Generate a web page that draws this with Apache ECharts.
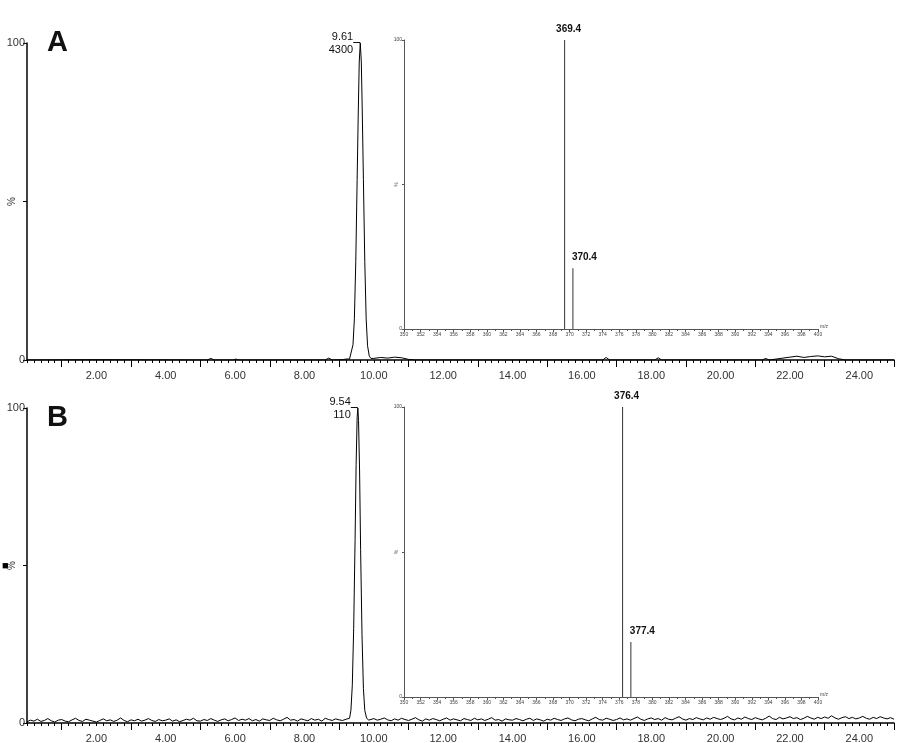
<!DOCTYPE html>
<html><head><meta charset="utf-8">
<script src="https://cdn.jsdelivr.net/npm/echarts@6/dist/echarts.min.js"></script>
<style>html,body{margin:0;padding:0;background:#fff}#c{width:900px;height:743px}</style>
</head><body><div id="c"></div><script>
// ---- Chromatogram A (time min, % intensity)
const baselineA = [[0,0],[2,0.1],[5.2,0],[5.3,0.5],[5.4,0],[5.95,0],[6.02,0.3],[6.1,0],[8.6,0],[8.7,0.6],[8.8,0],[9.1,0.1],[9.2,0.3]];
const peakA = [[9.30,0.3],[9.35,0.9],[9.40,4.8],[9.44,13],[9.48,31],[9.52,57],[9.55,77],[9.58,94],[9.61,100],[9.64,94],[9.67,77],[9.70,57],[9.74,31],[9.78,13],[9.82,4.5],[9.87,1.2],[9.92,0.5]];
const tailA = [[10.0,0.5],[10.2,0.8],[10.4,0.6],[10.6,0.9],[10.8,0.7],[11.0,0.2],[11.2,0],[16.6,0],[16.7,0.8],[16.8,0],[18.1,0],[18.2,0.7],[18.3,0],[21.2,0],[21.3,0.5],[21.4,0],[21.6,0.3],[21.8,0.6],[22.0,0.9],[22.2,1.2],[22.4,0.8],[22.6,1.1],[22.8,1.3],[23.0,1.0],[23.2,1.2],[23.4,0.4],[23.6,0],[25,0]];
const apexA = {t: 9.61, label: '9.61', area: '4300'};

// ---- Chromatogram B: baseline sampled every 0.1 min from 0.0
const baselineBStart = 0, baselineBStep = 0.1;
const baselineB = [
0.4,0.9,0.6,1.2,0.5,0.8,1.4,0.7,0.3,0.9,
1.1,0.6,0.4,1.0,1.5,0.8,0.5,1.2,0.9,0.6,
0.3,0.8,1.3,0.7,1.0,0.5,0.9,1.6,0.8,0.4,
1.0,0.7,1.2,0.6,0.9,1.4,0.8,0.5,1.1,0.7,
0.9,1.3,0.6,1.0,0.4,0.8,1.2,0.9,1.5,0.7,
0.6,1.1,0.8,1.4,0.9,0.5,1.0,1.3,0.7,1.1,
1.6,0.8,1.2,0.9,1.4,0.7,1.1,0.6,1.3,1.0,
0.8,1.5,1.0,0.7,1.2,1.8,0.9,1.1,0.6,1.3,
1.0,0.7,1.4,0.9,1.2,0.6,1.5,1.1,0.8,1.3,
1.0,0.8,1.2,1.0,1.0,1.0,1.0,1.0,1.0,1.1,
1.4,0.9,1.2,1.6,1.0,0.7,1.3,0.9,1.5,1.1,
0.8,1.2,1.7,1.0,0.6,1.3,0.9,1.4,1.1,0.7,
1.2,1.6,0.9,1.3,1.0,0.7,1.4,1.1,0.8,1.5,
1.0,1.3,0.8,1.2,1.7,0.9,1.1,0.6,1.3,1.0,
0.9,1.4,1.1,0.7,1.2,1.5,0.8,1.3,1.0,0.6,
1.2,0.9,1.5,1.1,0.8,1.3,1.6,1.0,0.7,1.2,
1.4,1.0,0.7,1.3,1.8,1.1,0.9,1.5,1.2,0.8,
1.1,1.6,1.0,1.3,0.9,1.4,1.9,1.2,0.8,1.3,
1.6,1.1,1.4,0.9,1.7,1.2,1.0,1.5,2.0,1.3,
0.9,1.4,1.1,1.7,1.3,1.0,1.6,1.2,1.8,1.4,
1.1,1.5,2.1,1.3,1.0,1.6,1.2,1.9,1.4,1.1,
1.7,1.3,1.0,1.5,2.2,1.4,1.1,1.8,1.3,1.6,
2.0,1.4,1.7,1.1,1.5,2.1,1.6,1.2,1.8,1.4,
1.9,1.5,2.3,1.6,1.2,1.7,2.0,1.4,1.8,1.3,
1.6,2.1,1.5,1.2,1.8,1.4,2.0,1.6,1.3,1.7,
1.2];
const peakB = [[9.25,1.0],[9.30,1.5],[9.34,4],[9.38,12],[9.42,30],[9.46,58],[9.49,82],[9.52,97],[9.54,100],[9.56,96],[9.59,80],[9.62,55],[9.66,28],[9.70,11],[9.74,4],[9.79,1.6],[9.85,0.9]];
const apexB = {t: 9.54, label: '9.54', area: '110'};

// ---- Mass spectra insets (m/z, %)
const specA_mz = [369.4, 370.4];
const specA_int = [100, 21];
const specB_mz = [376.4, 377.4];
const specB_int = [100, 19];

// ---- Tick labels
const chromLabelValues = [2,4,6,8,10,12,14,16,18,20,22,24];
const chromLongTicks = [1,3,5,7,9,11,13,15,17,19,21,23,25];

// ---- build series data
function withApex(points, apex){
  return points.map(p => {
    if (p[0] === apex.t) {
      return {value: p, label: {show: true, position: 'left', distance: 0,
        formatter: '{t|' + apex.label + '}{l|}\n{t|' + apex.area + '}{s|}',
        rich: {t: {fontSize: 11, lineHeight: 13, color: '#111', fontFamily: 'Liberation Sans'},
               l: {width: 7, height: 1, backgroundColor: '#111', verticalAlign: 'bottom'},
               s: {width: 7, height: 1}}}};
    }
    return {value: p};
  });
}
const dataA = withApex(baselineA.concat(peakA, tailA), apexA);
const ptsB = baselineB.map((v,i) => [+(baselineBStart + i*baselineBStep).toFixed(2), v])
  .filter(p => p[0] < 9.25 || p[0] > 9.85).concat(peakB).sort((a,b)=>a[0]-b[0]);
const dataB = withApex(ptsB, apexB);

const FONT = 'Liberation Sans';
function minorX(grid){
  return {gridIndex: grid, type: 'value', min: 0, max: 25, interval: 0.2, position: 'bottom',
    axisLine: {lineStyle: {color: '#000', width: 1.5}}, axisTick: {length: 3, lineStyle: {color: '#000'}},
    axisLabel: {show: false}, splitLine: {show: false}};
}
function majorX(grid){
  return {gridIndex: grid, type: 'value', min: 0, max: 25, interval: 1, position: 'bottom',
    axisLine: {show: false},
    axisTick: {customValues: chromLongTicks, length: 7, lineStyle: {color: '#000'}},
    axisLabel: {customValues: chromLabelValues, formatter: v => v.toFixed(2), fontSize: 11, color: '#333', fontFamily: FONT, margin: 10},
    splitLine: {show: false}};
}
function chromY(grid){
  return {gridIndex: grid, type: 'value', min: 0, max: 100, interval: 50,
    axisLine: {show: true, lineStyle: {color: '#000', width: 1.5}},
    axisTick: {show: true, length: 4, lineStyle: {color: '#000'}},
    axisLabel: {formatter: v => (v === 50 ? '' : String(v)), fontSize: 11, color: '#333', fontFamily: FONT, margin: 2},
    name: '%', nameLocation: 'middle', nameGap: 10, nameRotate: 90, nameMoveOverlap: false,
    nameTextStyle: {fontSize: 10, color: '#333', fontFamily: FONT},
    splitLine: {show: false}};
}
function specX(grid){
  return {gridIndex: grid, type: 'value', min: 350, max: 400, interval: 2, position: 'bottom',
    axisLine: {lineStyle: {color: '#555', width: 1}},
    axisTick: {length: 3, lineStyle: {color: '#555'}},
    minorTick: {show: true, splitNumber: 2, length: 2, lineStyle: {color: '#555'}},
    axisLabel: {fontSize: 5, color: '#444', margin: 3, fontFamily: FONT},
    name: 'm/z', nameLocation: 'end', nameGap: 2, nameMoveOverlap: false,
    nameTextStyle: {fontSize: 5, color: '#444', verticalAlign: 'bottom'},
    splitLine: {show: false}};
}
function specY(grid){
  return {gridIndex: grid, type: 'value', min: 0, max: 100, interval: 50,
    axisLine: {show: true, lineStyle: {color: '#555', width: 1}},
    axisTick: {show: true, length: 2, lineStyle: {color: '#555'}},
    axisLabel: {formatter: v => (v === 50 ? '' : String(v)), fontSize: 5, color: '#444', margin: 2, fontFamily: FONT},
    name: '%', nameLocation: 'middle', nameGap: 5, nameRotate: 90, nameMoveOverlap: false,
    nameTextStyle: {fontSize: 5, color: '#444'},
    splitLine: {show: false}};
}
function specData(mz, inten){
  return mz.map((m,i) => ({value: [m, inten[i]], label: {show: true,
    position: 'top', align: i === 0 ? 'center' : 'left', offset: i === 0 ? [4,-1] : [-1,-1],
    formatter: m.toFixed(1), fontSize: 10, fontWeight: 'bold', color: '#111', fontFamily: FONT}}));
}

const G = {outerBoundsMode: 'none', containLabel: false};
const chart = echarts.init(document.getElementById('c'), null, {renderer: 'canvas'});
chart.setOption({
  animation: false,
  backgroundColor: '#fff',
  title: [
    {text: 'A', left: 42, top: 23, textStyle: {fontSize: 29, fontWeight: 'bold', color: '#111', fontFamily: FONT}},
    {text: 'B', left: 42, top: 398, textStyle: {fontSize: 29, fontWeight: 'bold', color: '#111', fontFamily: FONT}}
  ],
  graphic: [{type: 'text', left: 2, top: 560, style: {text: '■', fontSize: 11, fill: '#000'}}],
  grid: [
    Object.assign({left: 27, top: 43, width: 867, height: 317}, G),
    Object.assign({left: 27, top: 408, width: 867, height: 315}, G),
    Object.assign({left: 404, top: 40, width: 414, height: 289}, G),
    Object.assign({left: 404, top: 407, width: 414, height: 290}, G)
  ],
  xAxis: [minorX(0), majorX(0), minorX(1), majorX(1), specX(2), specX(3)],
  yAxis: [chromY(0), chromY(1), specY(2), specY(3)],
  series: [
    {type: 'line', xAxisIndex: 0, yAxisIndex: 0, data: dataA, symbol: 'circle', symbolSize: 0.1, showSymbol: true,
     itemStyle: {color: '#000'}, lineStyle: {color: '#000', width: 1}, z: 3},
    {type: 'line', xAxisIndex: 2, yAxisIndex: 1, data: dataB, symbol: 'circle', symbolSize: 0.1, showSymbol: true,
     itemStyle: {color: '#000'}, lineStyle: {color: '#000', width: 1}, z: 3},
    {type: 'bar', xAxisIndex: 4, yAxisIndex: 2, data: specData(specA_mz, specA_int), barWidth: 1, itemStyle: {color: '#333'}},
    {type: 'bar', xAxisIndex: 5, yAxisIndex: 3, data: specData(specB_mz, specB_int), barWidth: 1, itemStyle: {color: '#333'}}
  ]
});
</script></body></html>
